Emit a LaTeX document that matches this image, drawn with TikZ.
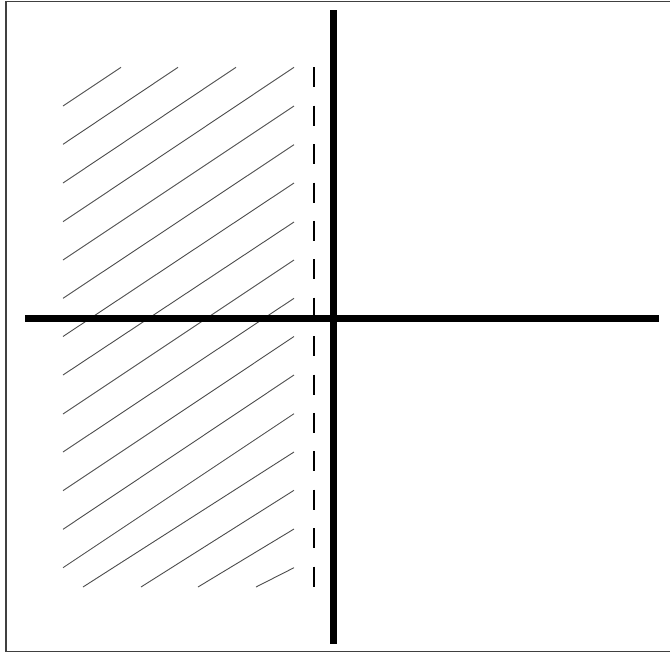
\documentclass[tikz,border=0pt]{standalone}
\begin{document}
\begin{tikzpicture}[x=1pt,y=-1pt,
  frameline/.style={draw=black!75,line width=1.3pt},
  axisline/.style={draw=black,line width=7pt},
  hatchline/.style={draw=black!70,line width=0.9pt},
  dashline/.style={draw=black,line width=2pt,dash pattern=on 20pt off 18.4pt}]
\useasboundingbox (0,0) rectangle (670,654);
% frame
\draw[frameline] (672,1.2) -- (6,1.2) -- (6,651.5) -- (672,651.5);
% hatching
\foreach \a/\b/\c/\d in {
  63/106/121/67.3, 63/144.3/178/67.3, 63/183/236/67.3, 63/221.7/294/67.3,
  63/260/294/106, 63/298.3/294/144.7, 63/336.5/294/183, 63/375/294/222,
  63/414/294/260, 63/452/294/298.3, 63/490.7/294/336.5, 63/529.3/294/375,
  63/567.7/294/413.7,
  83/587/294/452, 141/587/294/490.3, 198/587/294/529, 256/587/294/567.7}
  \draw[hatchline] (\a,\b) -- (\c,\d);
% dashed boundary
\coordinate (dtop) at (313.5,67.3);
\coordinate (dbot) at (313.5,587);
\draw[dashline] (dtop) -- (dbot);
% axes
\coordinate (xl) at (25,318);
\coordinate (xr) at (659,318);
\coordinate (yt) at (333,10);
\coordinate (yb) at (333,643.5);
\draw[axisline] (xl) -- (xr);
\draw[axisline] (yt) -- (yb);
\end{tikzpicture}
\end{document}
